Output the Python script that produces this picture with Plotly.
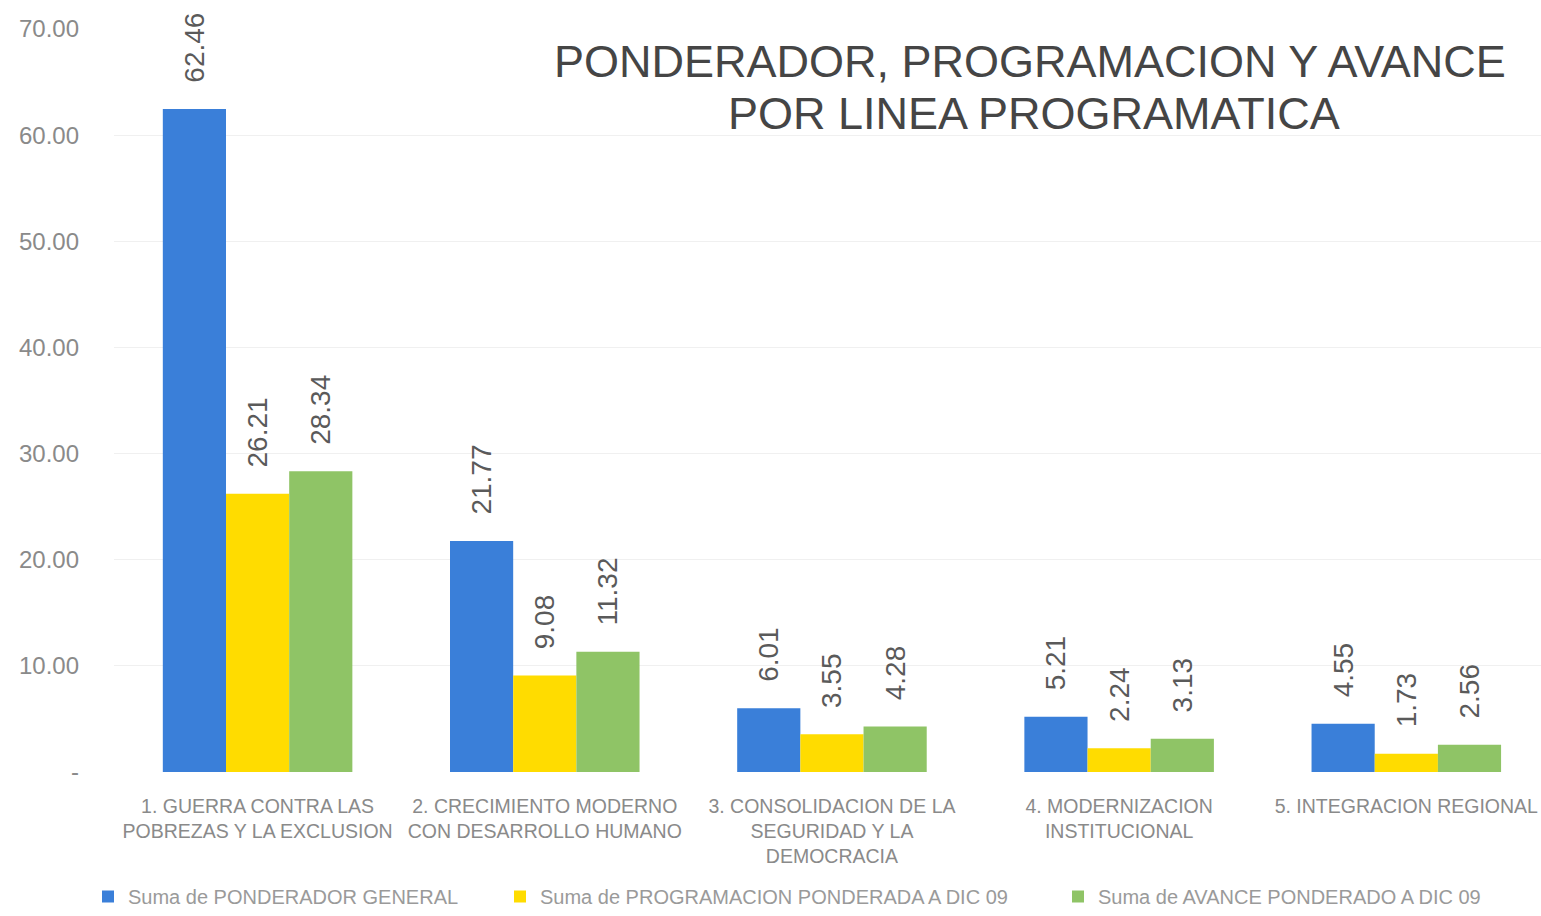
import plotly.graph_objects as go

categories = [
    "1. GUERRA CONTRA LAS<br>POBREZAS Y LA EXCLUSION",
    "2. CRECIMIENTO MODERNO<br>CON DESARROLLO HUMANO",
    "3. CONSOLIDACION DE LA<br>SEGURIDAD Y LA<br>DEMOCRACIA",
    "4. MODERNIZACION<br>INSTITUCIONAL",
    "5. INTEGRACION REGIONAL",
]
ponderador = [62.46, 21.77, 6.01, 5.21, 4.55]
programacion = [26.21, 9.08, 3.55, 2.24, 1.73]
avance = [28.34, 11.32, 4.28, 3.13, 2.56]

series_names = [
    "Suma de PONDERADOR GENERAL",
    "Suma de PROGRAMACION PONDERADA A DIC 09",
    "Suma de AVANCE PONDERADO A DIC 09",
]
colors = ["#3A7FD9", "#FFDC00", "#8FC466"]

ytick_vals = [0, 10, 20, 30, 40, 50, 60, 70]
ytick_text = ["-", "10.00", "20.00", "30.00", "40.00", "50.00", "60.00", "70.00"]

W, H = 1541, 916
L, R, T, B = 114, 0, 29, 144
PW, PH = W - L - R, H - T - B


def px_x(page_x):
    return (page_x - L) / PW


def px_y(page_y):
    return 1 - (page_y - T) / PH


PAD = "\u00a0\u00a0\u00a0"
legend_ids = ["legend", "legend2", "legend3"]
legend_text_x = [128, 540, 1098]

fig = go.Figure()
for name, vals, col, lid in zip(series_names, [ponderador, programacion, avance], colors, legend_ids):
    fig.add_trace(go.Bar(
        x=categories, y=vals, name=name, legend=lid, showlegend=True,
        marker=dict(color=col, line=dict(width=0)),
        text=[PAD + f"{v:.2f}" for v in vals],
        textposition="outside", textangle=-90, constraintext="none",
        textfont=dict(size=28, color="#5a5a5a", family="Liberation Sans, Arial"),
        cliponaxis=False,
    ))

legend_common = dict(
    orientation="h", xref="container", xanchor="left",
    yref="container", y=0, yanchor="bottom",
    font=dict(size=20, color="#9a9a9a", family="Liberation Sans, Arial"),
    itemwidth=30, bgcolor="rgba(0,0,0,0)",
)

layout_legends = {}
for lid, tx in zip(legend_ids, legend_text_x):
    layout_legends[lid] = dict(legend_common, x=(tx - 40) / W)

fig.update_layout(
    width=W, height=H, showlegend=True,
    paper_bgcolor="white", plot_bgcolor="white",
    margin=dict(l=L, r=R, t=T, b=B, autoexpand=False),
    barmode="group", bargap=0.34, bargroupgap=0,
    font=dict(family="Liberation Sans, Arial", color="#888888"),
    xaxis=dict(
        range=[-0.5, 4.469],
        tickfont=dict(size=19.5, color="#8a8a8a"),
        showline=False, ticks="", showgrid=False,
        ticklabelstandoff=20,
    ),
    yaxis=dict(
        range=[0, 70], tickvals=ytick_vals, ticktext=ytick_text,
        tickfont=dict(size=24, color="#8a8a8a"),
        showgrid=True, gridcolor="#f0f0f0", gridwidth=1,
        zeroline=False, showline=False, ticks="",
        ticklabelstandoff=34,
    ),
    annotations=[
        dict(text="PONDERADOR, PROGRAMACION Y AVANCE",
             x=px_x(1030), y=px_y(62), xref="paper", yref="paper", showarrow=False,
             font=dict(size=45, color="#454545", family="Liberation Sans, Arial"),
             xanchor="center", yanchor="middle"),
        dict(text="POR LINEA PROGRAMATICA",
             x=px_x(1034), y=px_y(113), xref="paper", yref="paper", showarrow=False,
             font=dict(size=45, color="#454545", family="Liberation Sans, Arial"),
             xanchor="center", yanchor="middle"),
    ],
    **layout_legends,
)

fig.write_html(
    "out.html",
    config={"displayModeBar": False},
    post_script="document.body.style.margin='0px';document.body.style.overflow='hidden';",
)
